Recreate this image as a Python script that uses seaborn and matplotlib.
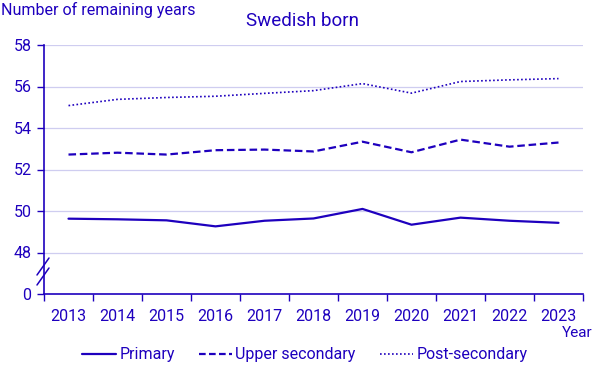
import matplotlib
matplotlib.use("Agg")
import matplotlib.pyplot as plt
import seaborn as sns
import pandas as pd
from matplotlib.lines import Line2D

years = [2013, 2014, 2015, 2016, 2017, 2018, 2019, 2020, 2021, 2022, 2023]
primary = [49.63, 49.6, 49.55, 49.26, 49.53, 49.64, 50.1, 49.34, 49.68, 49.53, 49.43]
upper_secondary = [52.72, 52.81, 52.72, 52.93, 52.96, 52.87, 53.34, 52.83, 53.44, 53.1, 53.3]
post_secondary = [55.08, 55.38, 55.47, 55.53, 55.67, 55.8, 56.14, 55.68, 56.24, 56.32, 56.38]
series_names = ["Primary", "Upper secondary", "Post-secondary"]
ytick_values = [46, 48, 50, 52, 54, 56, 58]
ytick_labels = ["0", "48", "50", "52", "54", "56", "58"]

blue = "#1e00be"
grid = "#cfcdf0"

sns.set_theme(style="white")
plt.rcParams["font.family"] = ["Roboto", "DejaVu Sans"]

df = pd.DataFrame({
    "Year": years * 3,
    "Value": primary + upper_secondary + post_secondary,
    "Series": [series_names[0]] * len(years) + [series_names[1]] * len(years) + [series_names[2]] * len(years),
})

fig = plt.figure(figsize=(6.05, 3.78), dpi=100)
ax = fig.add_axes([44 / 605, 1 - 294 / 378, (583 - 44) / 605, (294 - 45) / 378])

dashes = {series_names[0]: "", series_names[1]: (3.4, 1.7), series_names[2]: (1, 1.4)}
widths = {series_names[0]: 1.6, series_names[1]: 1.6, series_names[2]: 1.2}
for name in series_names:
    sub = df[df["Series"] == name]
    sns.lineplot(data=sub, x="Year", y="Value", ax=ax, color=blue,
                 linewidth=widths[name], legend=False)
    ln = ax.lines[-1]
    if dashes[name]:
        ln.set_dashes(dashes[name])

ax.set_xlim(years[0] - 0.5, years[-1] + 0.5)
ax.set_ylim(46, 58)
ax.set_yticks(ytick_values)
ax.set_yticklabels(ytick_labels)
ax.set_xticks(years)
ax.set_xticklabels([str(y) for y in years])
ax.set_xticks([y - 0.5 for y in years] + [years[-1] + 0.5], minor=True)
ax.tick_params(axis="x", which="major", length=0, pad=11, labelsize=11.5, labelcolor=blue)
ax.tick_params(axis="x", which="minor", length=5, width=1, color=blue, direction="out", bottom=True)
ax.tick_params(axis="y", length=5, width=1, color=blue, direction="out", left=True, labelsize=11.5, labelcolor=blue, pad=4)

for v in ytick_values[1:]:
    ax.axhline(v, color=grid, linewidth=0.9, zorder=0)

for s in ["top", "right"]:
    ax.spines[s].set_visible(False)
ax.spines["left"].set_color(blue)
ax.spines["bottom"].set_color(blue)
ax.spines["left"].set_linewidth(1.2)
ax.spines["bottom"].set_linewidth(1.2)
ax.set_xlabel("")
ax.set_ylabel("")

# axis break marks
for y0 in [258, 268]:
    fig.add_artist(Line2D([37 / 605, 49 / 605], [1 - (y0 + 17) / 378, 1 - y0 / 378],
                          color=blue, linewidth=1.1))

fig.text(1 / 605, 1 - 10 / 378, "Number of remaining years", color=blue, fontsize=11.5,
         ha="left", va="center")
fig.text(302 / 605, 1 - 21 / 378, "Swedish born", color=blue, fontsize=13.5,
         ha="center", va="center")
fig.text(592 / 605, 1 - 333 / 378, "Year", color=blue, fontsize=11, ha="right", va="center")

handles = [
    Line2D([], [], color=blue, linewidth=1.6),
    Line2D([], [], color=blue, linewidth=1.6, dashes=(3, 1.5)),
    Line2D([], [], color=blue, linewidth=1.2, dashes=(1, 1.4)),
]
leg = fig.legend(handles, series_names, loc="center", bbox_to_anchor=(305 / 605, 1 - 355 / 378),
                 ncol=3, frameon=False, fontsize=11.5, handlelength=2.1, handletextpad=0.2,
                 columnspacing=1.5)
for t in leg.get_texts():
    t.set_color(blue)

fig.savefig("out.png", dpi=100)
